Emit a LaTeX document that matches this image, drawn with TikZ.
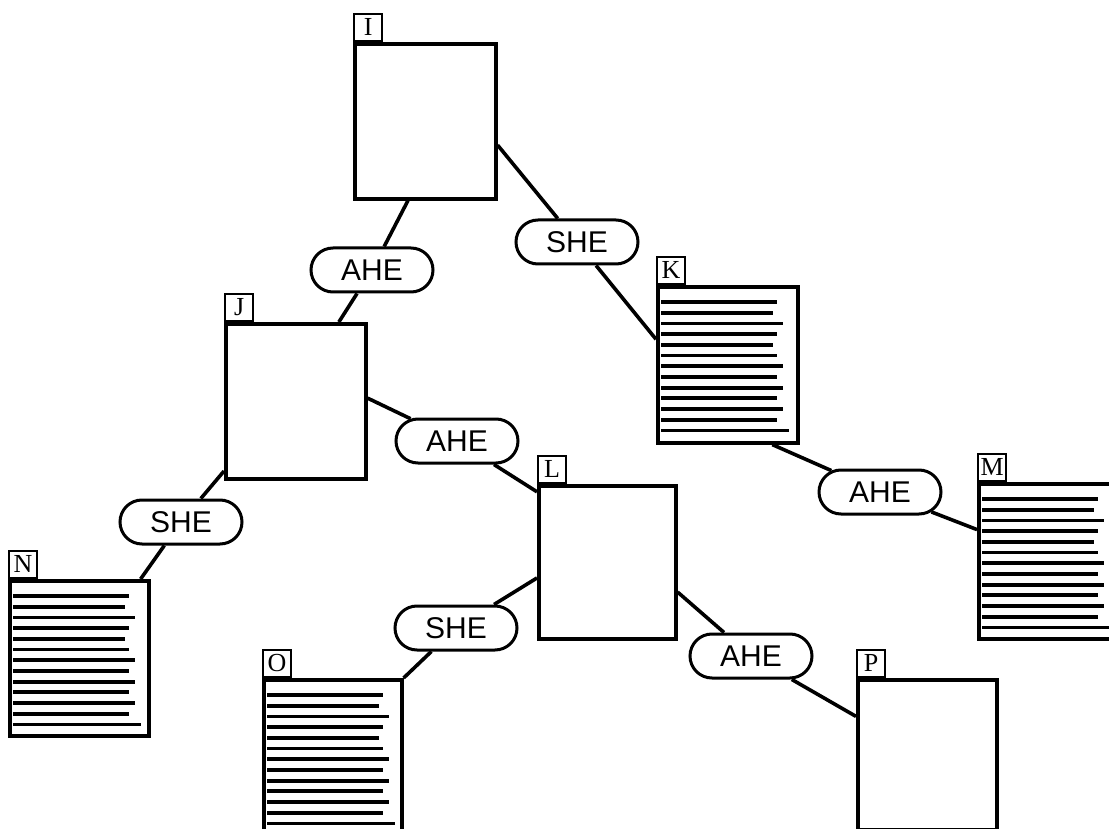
\documentclass[tikz,border=0pt]{standalone}
\usepackage{fontspec}
\setmainfont{Liberation Serif}
\newfontfamily\pillfont{Liberation Sans}
\usetikzlibrary{calc,shapes.misc}
\newcommand\doclines[1]{\foreach \len [count=\i from 0] in {116,112,122,116,112,116,122,116,122,116,122,116,128}{\draw[docline] ($(#1.north west)+(5,17+10.7*\i)$) -- ++(\len,0);}}
\begin{document}
\begin{tikzpicture}[x=1pt,y=-1pt,
 box/.style={draw,line width=3.6pt,anchor=north west,inner sep=0pt,fill=white},
 tag/.style={draw,line width=2.2pt,anchor=south west,minimum width=28pt,minimum height=27pt,inner sep=0pt,font=\fontsize{26}{26}\selectfont},
 pill/.style={draw,rounded rectangle,line width=3pt,minimum width=122pt,minimum height=44pt,inner sep=0pt,fill=white,font=\pillfont\fontsize{30}{30}\selectfont},
 link/.style={line width=3.6pt},
 docline/.style={line width=3.8pt}]
\useasboundingbox (0,0) rectangle (1109,829);
\clip (0,0) rectangle (1109,829);
% boxes
\node[box,minimum width=141pt,minimum height=155pt] (I) at (353,42) {};
\node[box,minimum width=140pt,minimum height=155pt] (J) at (224,322) {};
\node[box,minimum width=140pt,minimum height=156pt] (K) at (656,285) {};
\node[box,minimum width=137pt,minimum height=153pt] (L) at (537,484) {};
\node[box,minimum width=140pt,minimum height=155pt] (M) at (977,482) {};
\node[box,minimum width=139pt,minimum height=155pt] (N) at (8,579) {};
\node[box,minimum width=138pt,minimum height=160pt] (O) at (262,678) {};
\node[box,minimum width=139pt,minimum height=150pt] (P) at (856,678) {};
% tags
\node[tag] (tI) at (I.north west) {I};
\node[tag] (tJ) at (J.north west) {J};
\node[tag] (tK) at (K.north west) {K};
\node[tag] (tL) at (L.north west) {L};
\node[tag] (tM) at (M.north west) {M};
\node[tag] (tN) at (N.north west) {N};
\node[tag] (tO) at (O.north west) {O};
\node[tag] (tP) at (P.north west) {P};
% document lines
\doclines{K}
\doclines{M}
\doclines{N}
\doclines{O}
% pills
\node[pill] (a1) at (372,270) {AHE};
\node[pill] (s1) at (577,242) {SHE};
\node[pill] (a2) at (457,441) {AHE};
\node[pill] (s2) at (181,522) {SHE};
\node[pill] (s3) at (456,628) {SHE};
\node[pill] (a3) at (751,656) {AHE};
\node[pill] (a4) at (880,492) {AHE};
% connectors
\draw[link] ($(I.south west)!0.38!(I.south east)$) -- (a1);
\draw[link] ($(I.north east)!0.65!(I.south east)$) -- (s1);
\draw[link] (s1) -- ($(K.north west)!0.34!(K.south west)$);
\draw[link] (a1) -- ($(J.north west)!0.8!(J.north east)$);
\draw[link] ($(J.north east)!0.48!(J.south east)$) -- (a2);
\draw[link] (a2) -- ($(L.north west)!0.05!(L.south west)$);
\draw[link] ($(J.north west)!0.94!(J.south west)$) -- (s2);
\draw[link] (s2) -- ($(N.north west)!0.93!(N.north east)$);
\draw[link] ($(L.north west)!0.6!(L.south west)$) -- (s3);
\draw[link] (s3) -- (O.north east);
\draw[link] ($(L.north east)!0.69!(L.south east)$) -- (a3);
\draw[link] (a3) -- ($(P.north west)!0.25!(P.south west)$);
\draw[link] ($(K.south west)!0.81!(K.south east)$) -- (a4);
\draw[link] (a4) -- ($(M.north west)!0.3!(M.south west)$);
\end{tikzpicture}
\end{document}
